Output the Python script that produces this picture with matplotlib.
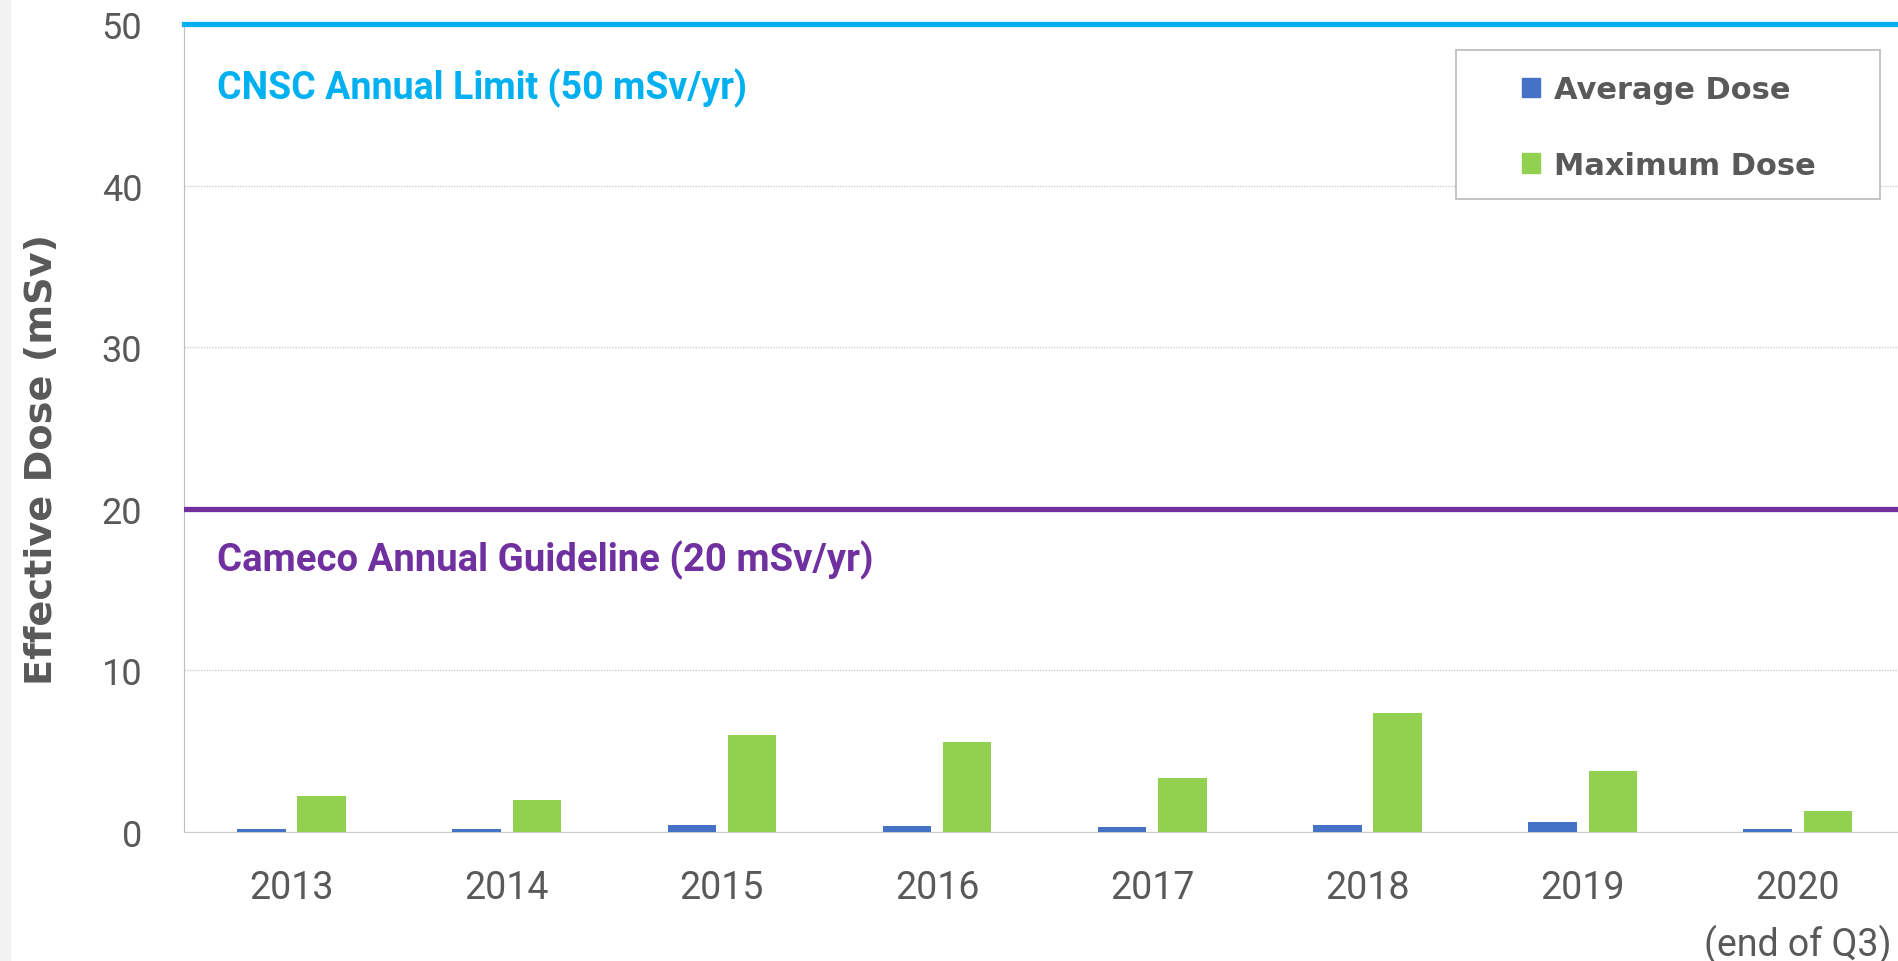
import matplotlib

matplotlib.use("Agg")
import matplotlib.pyplot as plt  # noqa: E402
from matplotlib.patches import Patch, Rectangle  # noqa: E402
import numpy as np  # noqa: E402

# data (mSv)
years = ["2013", "2014", "2015", "2016", "2017", "2018", "2019", "2020\n(end of Q3)"]
avg_dose = [0.19, 0.19, 0.45, 0.35, 0.33, 0.45, 0.60, 0.19]
max_dose = [2.25, 1.97, 6.00, 5.57, 3.35, 7.37, 3.80, 1.27]
cnsc_limit = 50
cameco_guideline = 20

_BLUE = "#4472C4"
_GREEN = "#92D050"
_CYAN = "#00B0F0"
_PURPLE = "#7030A0"
_GREY = "#595959"
_NARROW = ["Roboto", "DejaVu Sans"]

W, H = 1898, 962
fig = plt.figure(figsize=(W / 100, H / 100), dpi=100)
fig.patches.append(Rectangle((0, 0), 0.006, 1, transform=fig.transFigure,
                             facecolor="#f2f2f2", edgecolor="none", zorder=0))
ax = fig.add_axes([0.0969, 0.1341, 0.907, 0.840])

x = np.arange(len(years))
w, off = 0.225, 0.14
ax.bar(x - off, avg_dose, w, color=_BLUE, zorder=3)
ax.bar(x + off, max_dose, w, color=_GREEN, zorder=3)

ax.set_xlim(-0.5, len(years) - 0.5)
ax.set_ylim(0, 50)
ax.set_yticks([0, 10, 20, 30, 40, 50])
ax.set_xticks(x)
ax.set_xticklabels(years, linespacing=1.55)
ax.tick_params(length=0, colors=_GREY, labelsize=26)
ax.tick_params(axis="x", labelsize=27, pad=27)
ax.tick_params(axis="y", pad=30)
for lab in ax.get_xticklabels() + ax.get_yticklabels():
    lab.set_family(_NARROW)
ax.grid(axis="y", color="#d0d0d0", lw=1.0, ls=(0, (1, 1)), zorder=1)
for s in ("top", "right"):
    ax.spines[s].set_visible(False)
ax.spines["left"].set_color("#bfbfbf")
ax.spines["bottom"].set_color("#c8c8c8")
ax.spines["bottom"].set_linestyle((0, (1, 1)))

# reference lines and their labels
ax.axhline(cnsc_limit, color=_CYAN, lw=3.8, clip_on=False, zorder=4)
ax.axhline(cameco_guideline, color=_PURPLE, lw=3.8, zorder=4)
ax.text(-0.345, 46.1, "CNSC Annual Limit (50 mSv/yr)", color=_CYAN, fontsize=27,
        fontweight="bold", family=_NARROW, va="center", ha="left")
ax.text(-0.345, 16.9, "Cameco Annual Guideline (20 mSv/yr)", color=_PURPLE, fontsize=27.5,
        fontweight="bold", family=_NARROW, va="center", ha="left")

fig.text(0.0223, 0.522, "Effective Dose (mSv)", rotation=90, ha="center", va="center",
         fontsize=27.5, fontweight="bold", color=_GREY)

# legend: frame drawn separately so its padding can match the reference
fig.patches.append(Rectangle((1456 / W, 1 - 200 / H), 424 / W, 149 / H,
                             transform=fig.transFigure, facecolor="white",
                             edgecolor="#bfbfbf", lw=1.3, zorder=2))
handles = [Patch(color=_BLUE, label="Average Dose"), Patch(color=_GREEN, label="Maximum Dose")]
leg = fig.legend(handles=handles, loc="upper left", bbox_to_anchor=(1522 / W, 1 - 76 / H),
                 bbox_transform=fig.transFigure, borderaxespad=0, borderpad=0, frameon=False,
                 handlelength=0.6, handleheight=0.6, handletextpad=0.45, labelspacing=1.53,
                 prop=dict(size=22, weight="bold"), labelcolor=_GREY)
leg.set_zorder(5)

fig.savefig("out.png", dpi=100)
